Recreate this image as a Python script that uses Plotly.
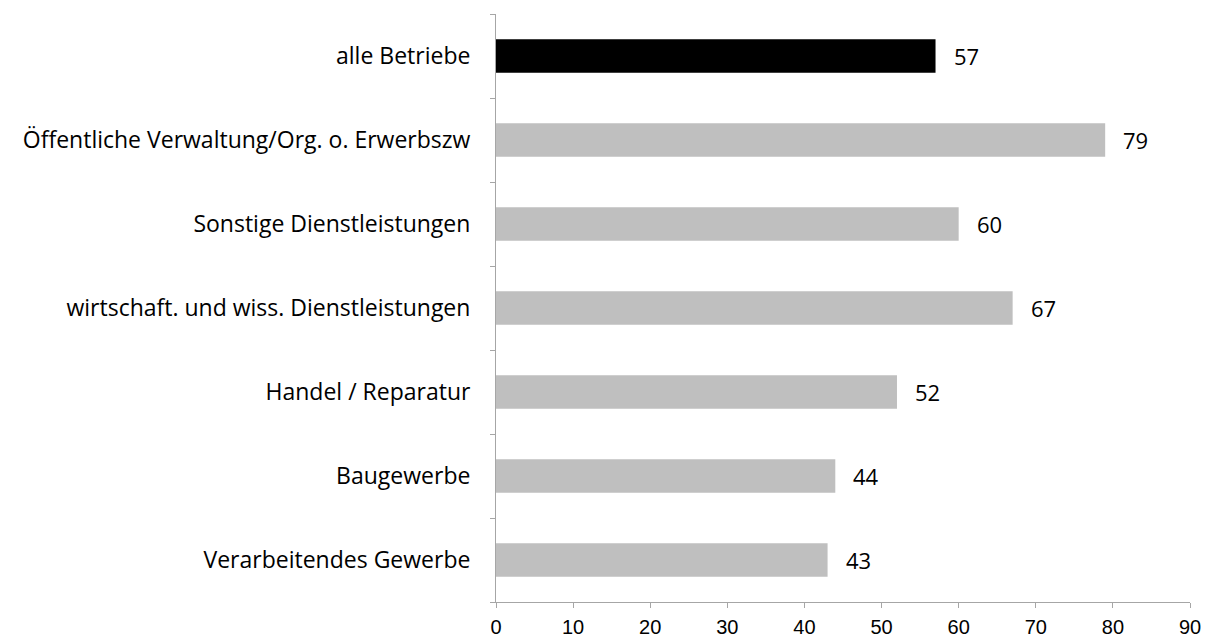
import plotly.graph_objects as go

categories = ["Verarbeitendes Gewerbe", "Baugewerbe", "Handel / Reparatur",
              "wirtschaft. und wiss. Dienstleistungen", "Sonstige Dienstleistungen",
              "Öffentliche Verwaltung/Org. o. Erwerbszw", "alle Betriebe"]
values = [43, 44, 52, 67, 60, 79, 57]
colors = ["#BFBFBF"] * 6 + ["#000000"]
x_ticks = [0, 10, 20, 30, 40, 50, 60, 70, 80, 90]

LABEL_FONT = dict(family="Open Sans", size=23, color="#000000")

fig = go.Figure(go.Bar(
    y=categories, x=values, orientation="h",
    marker=dict(color=colors, line=dict(width=0)),
    hoverinfo="x+y",
))
for c, v in zip(categories, values):
    fig.add_annotation(x=v, y=c, text=str(v), showarrow=False, xanchor="left",
                       xshift=16, font=dict(family="Open Sans", size=22, color="#000000"))

fig.update_layout(
    width=1210, height=638,
    margin=dict(l=496, r=20, t=14, b=36),
    plot_bgcolor="white", paper_bgcolor="white",
    bargap=0.6, showlegend=False,
    xaxis=dict(range=[0, 90], tickvals=x_ticks, showgrid=False, zeroline=False,
               showline=True, linecolor="#A6A6A6", linewidth=1, automargin=False,
               ticks="outside", ticklen=5, tickcolor="#A6A6A6", ticklabelstandoff=2,
               tickfont=dict(family="Liberation Sans", size=20, color="#000000")),
    yaxis=dict(showgrid=False, zeroline=False, showline=True, linecolor="#A6A6A6", linewidth=1,
               ticks="outside", ticklen=5, tickcolor="#A6A6A6", tickson="boundaries",
               automargin=False, ticklabelstandoff=20, tickfont=LABEL_FONT),
)
fig.write_html("out.html", config={"displayModeBar": False},
               post_script="document.body.style.margin='0px';")
